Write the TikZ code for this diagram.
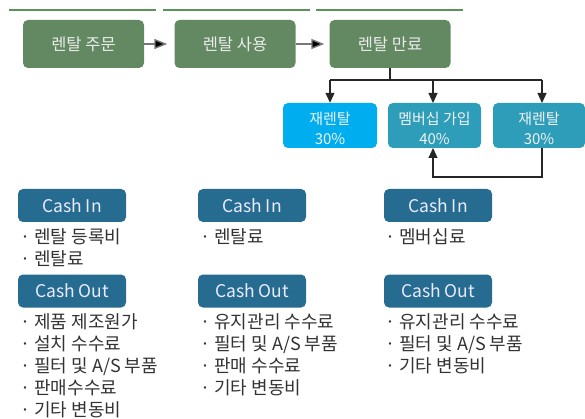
\documentclass[tikz,border=0pt]{standalone}
\usepackage{fontspec}
\setmainfont{Noto Sans CJK KR}
\usetikzlibrary{arrows.meta}
\definecolor{stepgreen}{HTML}{628962}
\definecolor{rulegreen}{HTML}{5A935A}
\definecolor{cyanbox}{HTML}{00AEEF}
\definecolor{tealbox}{HTML}{2E9DB9}
\definecolor{cashblue}{HTML}{266B90}
\definecolor{bodytext}{HTML}{333333}
\definecolor{linkgray}{HTML}{777777}
\begin{document}
\begin{tikzpicture}[x=1pt,y=-1pt,
  stagebox/.style={fill=stepgreen,rounded corners=5pt,minimum width=121pt,minimum height=48pt,
    text=white!92!black,font=\fontsize{16.5}{19}\selectfont,inner sep=0pt},
  sharebox/.style={rounded corners=5pt,minimum height=45pt,text=white!95!black,
    font=\fontsize{15}{20}\selectfont,align=center,inner sep=0pt},
  sharetext/.style={text=white!95!black,font=\fontsize{15}{20}\selectfont,align=center,inner sep=0pt},
  cashbox/.style={fill=cashblue,rounded corners=5pt,minimum width=108pt,minimum height=33pt,
    text=white!92!blue,font=\fontsize{17.5}{20}\selectfont,inner sep=0pt},
  itemlist/.style={anchor=north west,align=left,text=bodytext,font=\fontsize{18}{22}\selectfont,inner sep=0pt},
  flow/.style={draw=linkgray,line width=1.4pt,-{Triangle[length=13pt,width=10pt,fill=black]}},
  branch/.style={draw=black!85,line width=1.1pt,-{Triangle[length=10pt,width=9pt]}}]
\useasboundingbox (0,0) rectangle (585,419);

% header rules above the three stages
\draw[rulegreen,line width=1.2pt] (9,10) -- (156,10);
\draw[rulegreen,line width=1.2pt] (163,10) -- (310,10);
\draw[rulegreen,line width=1.2pt] (316,10) -- (463,10);

% rental stages
\node[stagebox] (order) at (83.5,44) {렌탈 주문};
\node[stagebox] (use) at (235,44) {렌탈 사용};
\node[stagebox] (end) at (390,44) {렌탈 만료};
\draw[flow,shorten >=7pt] (order) -- (use);
\draw[flow,shorten >=5pt] (use) -- (end);

% outcomes after expiry: boxes, with their text set slightly low
\node[sharebox,fill=cyanbox,minimum width=94pt] (rerentA) at (330,125.5) {};
\node[sharebox,fill=tealbox,minimum width=93pt] (member) at (434.5,125.5) {};
\node[sharebox,fill=tealbox,minimum width=92pt] (rerentB) at (539,125.5) {};
\node[sharetext] (rerentAtxt) at ([yshift=-2.5pt]rerentA.center) {재렌탈\\30\%};
\node[sharetext] (membertxt) at ([yshift=-2.5pt]member.center) {멤버십 가입\\40\%};
\node[sharetext] (rerentBtxt) at ([yshift=-2.5pt]rerentB.center) {재렌탈\\30\%};

\coordinate (split) at (390,80);
\draw[black!85,line width=1.1pt] (end.south) -- (split);
\draw[black!85,line width=1.1pt] (330,80) -- (542,80);
\draw[branch] (330,80) -- (rerentA.north);
\draw[branch] (433,80) -- (433,103);
\draw[branch] (542,80) -- (542,103);
\draw[branch] (542,148) -- (542,177) -- (433,177) -- (433,148);

% cash flows per stage
\node[cashbox] (in1) at (72,205.5) {Cash In};
\node[cashbox] (in2) at (252,205.5) {Cash In};
\node[cashbox] (in3) at (438,205.5) {Cash In};
\node[cashbox] (out1) at (72,291) {Cash Out};
\node[cashbox] (out2) at (252,291) {Cash Out};
\node[cashbox] (out3) at (438,291) {Cash Out};

\node[itemlist] (inlist1) at (20,228) {· 렌탈 등록비\\· 렌탈료};
\node[itemlist] (inlist2) at (200,228) {· 렌탈료};
\node[itemlist] (inlist3) at (385,228) {· 멤버십료};
\node[itemlist] (outlist1) at (20,313) {· 제품 제조원가\\· 설치 수수료\\· 필터 및 A/S 부품\\· 판매수수료\\· 기타 변동비};
\node[itemlist] (outlist2) at (200,313) {· 유지관리 수수료\\· 필터 및 A/S 부품\\· 판매 수수료\\· 기타 변동비};
\node[itemlist] (outlist3) at (385,313) {· 유지관리 수수료\\· 필터 및 A/S 부품\\· 기타 변동비};
\end{tikzpicture}
\end{document}
